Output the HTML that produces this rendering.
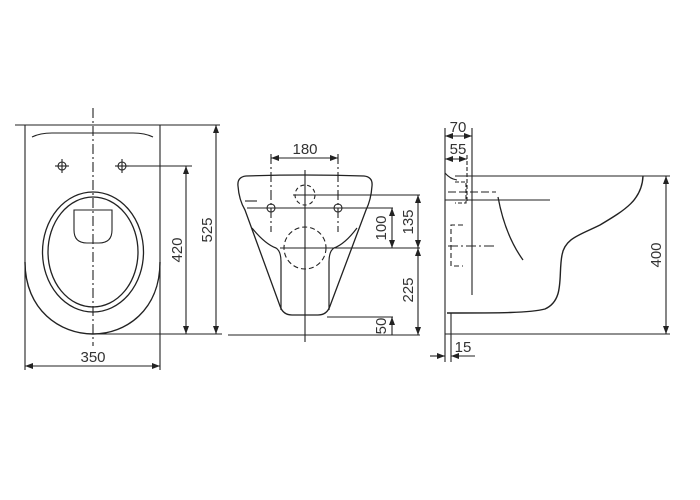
<!DOCTYPE html>
<html><head><meta charset="utf-8"><style>
html,body{margin:0;padding:0;background:#fff}
svg{display:block}
text{font-family:"Liberation Sans",sans-serif;font-size:15px;fill:#333}
</style></head><body>
<svg width="700" height="500" viewBox="0 0 700 500" xmlns="http://www.w3.org/2000/svg">
<defs>
<marker id="a" markerWidth="8" markerHeight="6" refX="8" refY="3" orient="auto-start-reverse" markerUnits="userSpaceOnUse"><path d="M0,0 L8,3 L0,6 z" fill="#222"/></marker>
</defs>
<g stroke="#222" stroke-width="1.1" fill="none">
<!-- LEFT VIEW -->
<line x1="15" y1="125" x2="220" y2="125"/>
<line x1="25" y1="125" x2="25" y2="370"/>
<line x1="160" y1="125" x2="160" y2="370"/>
<path d="M25,262 C25,310 60,334 93,334 C126,334 160,310 160,262" stroke-width="1.4"/>
<path d="M32,137 Q40,133 52,133 L133,133 Q145,133 153,137"/>
<line x1="93" y1="108" x2="93" y2="346" stroke-dasharray="10,3,2,3"/>
<circle cx="62" cy="166" r="4"/><line x1="55" y1="166" x2="69" y2="166"/><line x1="62" y1="159" x2="62" y2="173"/>
<circle cx="122" cy="166" r="4"/><line x1="115" y1="166" x2="129" y2="166"/><line x1="122" y1="159" x2="122" y2="173"/>
<line x1="126" y1="166" x2="192" y2="166"/>
<ellipse cx="93" cy="252" rx="50.5" ry="60" stroke-width="1.3"/>
<ellipse cx="93" cy="252" rx="45" ry="55" stroke-width="1.3"/>
<path d="M74,210 L112,210 L112,230 Q112,243 99,243 L87,243 Q74,243 74,230 Z"/>
<line x1="93" y1="334" x2="222" y2="334"/>
<line x1="186" y1="166" x2="186" y2="334" marker-start="url(#a)" marker-end="url(#a)"/>
<line x1="216" y1="125" x2="216" y2="334" marker-start="url(#a)" marker-end="url(#a)"/>
<line x1="25" y1="366" x2="160" y2="366" marker-start="url(#a)" marker-end="url(#a)"/>
<!-- MIDDLE VIEW -->
<line x1="271" y1="158" x2="338" y2="158" marker-start="url(#a)" marker-end="url(#a)"/>
<line x1="271" y1="154" x2="271" y2="232" stroke-dasharray="10,3,2,3"/>
<line x1="338" y1="154" x2="338" y2="232" stroke-dasharray="10,3,2,3"/>
<path d="M246,176 Q305,174 364,176 Q373,177 372,186 Q371,200 366,210 L330,306 Q327,315 318,315 L292,315 Q283,315 280,306 L245,210 Q239,200 238,186 Q237,177 246,176 Z" stroke-width="1.3"/>
<path d="M252,228 Q265,244 276,248 Q281,251 281,262 L281,310" stroke-width="1.2"/>
<path d="M357,228 Q345,244 334,248 Q329,251 329,262 L329,310" stroke-width="1.2"/>
<line x1="245" y1="201" x2="257" y2="201"/>
<line x1="247" y1="208" x2="393" y2="208"/>
<circle cx="271" cy="208" r="4"/><circle cx="338" cy="208" r="4"/>
<circle cx="305" cy="195" r="10" stroke-dasharray="4,3"/>
<circle cx="305" cy="248" r="21" stroke-dasharray="5,3"/>
<line x1="293" y1="195" x2="420" y2="195"/>
<line x1="280" y1="248" x2="420" y2="248"/>
<line x1="305" y1="170" x2="305" y2="342"/>
<line x1="327" y1="317" x2="393" y2="317"/>
<line x1="228" y1="335" x2="420" y2="335"/>
<line x1="392" y1="208" x2="392" y2="248" marker-start="url(#a)" marker-end="url(#a)"/>
<line x1="418" y1="195" x2="418" y2="248" marker-start="url(#a)" marker-end="url(#a)"/>
<line x1="418" y1="248" x2="418" y2="335" marker-start="url(#a)" marker-end="url(#a)"/>
<line x1="392" y1="317" x2="392" y2="335" marker-start="url(#a)"/>
<!-- RIGHT VIEW -->
<line x1="445" y1="128" x2="445" y2="362"/>
<line x1="451" y1="313" x2="451" y2="362"/>
<line x1="472" y1="128" x2="472" y2="295"/>
<line x1="445" y1="136" x2="472" y2="136" marker-start="url(#a)" marker-end="url(#a)"/>
<line x1="445" y1="159" x2="467" y2="159" marker-start="url(#a)" marker-end="url(#a)"/>
<line x1="467" y1="155" x2="467" y2="203" stroke-dasharray="4,2"/>
<path d="M445,173 Q450,179 457,180"/>
<line x1="455" y1="176" x2="670" y2="176"/>
<path d="M643,176 C642,200 625,210 600,225 C580,235 565,238 562,255 C558,275 565,300 545,309 C530,313 500,313 447,313" stroke-width="1.4"/>
<line x1="445" y1="334" x2="670" y2="334"/>
<line x1="666" y1="176" x2="666" y2="334" marker-start="url(#a)" marker-end="url(#a)"/>
<path d="M498,197 Q505,235 523,260" stroke-width="1.3"/>
<line x1="448" y1="192" x2="496" y2="192" stroke-dasharray="8,3"/>
<line x1="445" y1="200" x2="550" y2="200"/>
<path d="M455,182 L466,182 L466,203 L455,203" stroke-dasharray="4,2"/>
<path d="M463,225 L451,225 L451,266 L463,266" stroke-dasharray="5,3"/>
<line x1="448" y1="246" x2="497" y2="246" stroke-dasharray="10,3,2,3"/>
<line x1="430" y1="356" x2="445" y2="356" marker-end="url(#a)"/>
<line x1="451" y1="356" x2="475" y2="356" marker-start="url(#a)"/>
</g>
<text x="93" y="362" text-anchor="middle">350</text>
<text transform="translate(182,250) rotate(-90)" text-anchor="middle">420</text>
<text transform="translate(212,230) rotate(-90)" text-anchor="middle">525</text>
<text x="305" y="154" text-anchor="middle">180</text>
<text transform="translate(386,228) rotate(-90)" text-anchor="middle">100</text>
<text transform="translate(413,222) rotate(-90)" text-anchor="middle">135</text>
<text transform="translate(413,290) rotate(-90)" text-anchor="middle">225</text>
<text transform="translate(386,326) rotate(-90)" text-anchor="middle">50</text>
<text x="458" y="132" text-anchor="middle">70</text>
<text x="458" y="154" text-anchor="middle">55</text>
<text transform="translate(661,255) rotate(-90)" text-anchor="middle">400</text>
<text x="463" y="352" text-anchor="middle">15</text>
</svg>
</body></html>
